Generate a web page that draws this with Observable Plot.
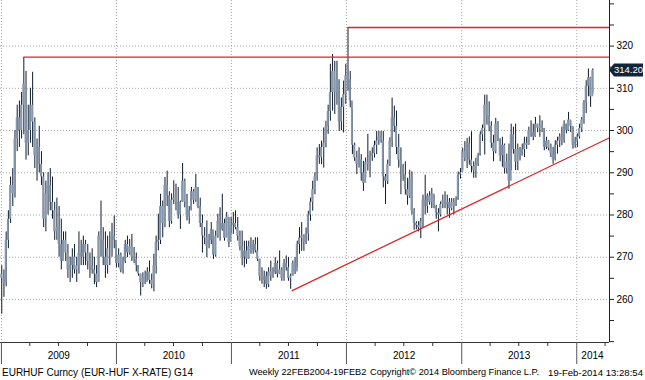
<!DOCTYPE html>
<html><head><meta charset="utf-8">
<script src="https://cdn.jsdelivr.net/npm/d3@7"></script>
<script src="https://cdn.jsdelivr.net/npm/@observablehq/plot@0.6"></script>
<style>
body{margin:0;background:#fff;}
#chart{width:645px;height:380px;position:relative;overflow:hidden;font-family:"Liberation Sans",Arial,sans-serif;background:#fff;}
#chart svg{display:block;}
#caption{position:relative;height:14px;font-size:9px;color:#000;white-space:nowrap;}
#caption span{position:absolute;top:1px;}
</style></head><body>
<div id="chart"></div>
<script>
// weekly candles [high, low, close]; open = previous close
const firstOpen = 266;
const w2009 = [
[268,256.5,265],[267,260.5,264],[276,263,274],[281,272,279],[289,278,287],[291,282,285],[300,284,298],[306,295,303],[307,296,300],[309,298,306],
[317.3,299,311],[314,293,297],[306,294,300],[310,297,306],[313.8,296,302],[303,291,294],[298,288,296],[301,290,292],[295,287,289],[290,277,279],
[288,276,285],[290,280,287],[291,281,283],[289,279,281],[283,274,276],[284,274,277],[282,270,273],[279,267,269],[276,270,274],[276,269,271],
[273,265,267],[270,264,268],[272,265,270],[273,266,267],[270,264,268],[276,266,271],[274,268,270],[275,268,273],[274,268,271],[273,267,269],
[271,265,268],[272,266,267],[270,263.5,266],[268,262.8,264],[276,264,275],[283.3,270,274],[277,268,270],[276,265,268],[275,266,272],[276,268,272],
[278,270,275],[279.8,272,274]];
const w2010 = [
[273,267.5,268.5],[272,267.5,270.5],[271,266.3,267],[270,266,269],[274,268.5,273],[275,269.9,271],[274.2,270.5,272.5],[275.4,269,270],[272.3,268.5,269.5],[271,266.5,268],
[268,265.5,266],[266,260.8,264],[266.3,262.8,265],[266.7,263.5,264],[267.5,264.3,266.5],[269.1,263.6,264.5],[266,262.5,263.5],[270.7,261.8,268],[275,266,273.5],[280.2,271.5,274],
[284.9,273,282],[283.3,274.6,278],[288.9,277,287],[290.4,282,284.5],[285.5,277,278.5],[285,277.8,283.5],[288.1,282.5,284],[287.3,281,283],[286.5,279,280],[283.3,276.6,283],
[292.2,283,288],[288.5,281.7,283],[284.9,278.6,279.5],[282,277.8,281],[286.5,281,285.5],[286,282.5,283.5],[289.6,283,286.5],[286.5,281.5,282],[284,277,278],[280,271,275],
[277,273,274.5],[278.6,269.9,272.5],[275.4,272,274],[278.2,273,276.5],[276,269.5,270.5],[276.2,270,275],[280.2,274.5,278.5],[281.7,273.8,276.5],[284.9,276.2,278],[279,273.8,274.5],
[280.6,275,279.5],[279.4,272.3,273.5],[279.4,275.5,277.5]];
const w2011 = [
[280.6,275.4,278],[281,276.5,277],[279.4,273.8,275],[276.2,271.5,272.5],[276.2,268,270],[273.8,267.5,271.5],[273.8,268.3,269.5],[273.8,269.5,272.5],[274.6,270.7,271.5],[274,270.7,273],
[274.6,271,271.5],[274.6,269,269.5],[269.5,264.3,265.5],[267.5,263.6,264.5],[266.7,262.8,265.5],[266.5,262.4,263.5],[267.5,262.8,266.5],[269.1,264.3,265.5],[267.5,265,266.5],[269.9,265.9,268.5],
[269.1,265.1,266],[271.5,265.9,267],[267.5,264.3,265],[269.5,264.3,268.5],[270.3,266.7,267.5],[269.9,264.3,265],[266,262.4,265.5],[269.1,265.5,268.5],[269.9,265.9,266.5],[273.8,267.5,273],
[277,270.7,274.5],[278.2,271.4,275],[275.3,271.4,273.5],[276.9,273,275.5],[280.9,273.8,280],[284,278.5,283],[288,280.9,286],[290,284.8,289],[295.9,288,294],[296.7,292,293.5],
[297.5,291.9,296],[300.6,291.1,297],[302.2,295.9,301],[306,299.1,304.5],[315.7,302.2,309],[318,304.6,314],[316.4,303.8,309],[316.4,306,312],[312,299.8,302],[307.7,300,305.5],
[311.7,299.4,308.5],[315.7,306.2,313]];
const w2012 = [
[324.4,309.3,312],[314,305.4,307],[305,294.3,296.5],[297,292.7,293.5],[295.1,289.6,292],[295.9,291.1,293],[294.3,288,290],[292.7,285.6,287.5],[293.5,288.8,292.5],[299.1,290.4,292],
[295.1,288.8,294],[295.9,292.7,294.5],[297.5,293.5,296.5],[299.8,294.3,297.5],[299.8,296.5,298.5],[299.8,297,297.5],[299.8,286.4,289],[289.6,282.5,288],[293,287.2,292],[298.3,291.5,297.5],
[307.7,296,303],[305.8,299.5,301],[304.6,294.3,296],[299.1,291.1,293],[295.9,284.8,291.5],[292,288,289.5],[292.6,284.7,286],[288.7,282.3,284.5],[290.6,283.9,288.5],[290.2,280,281],
[281.5,276.4,278],[278.4,276.5,277.5],[278.4,276,277],[279.2,274.4,278.5],[284.7,276.8,283.5],[289.4,280,282],[285,280.4,284.5],[285.5,282.3,283],[286.3,281.5,285],[284.7,281.5,282],
[282.3,279,280.5],[281.5,276,280],[283.1,279.5,282.5],[284.7,281.5,283.5],[285.5,281.5,282.5],[284.7,280,283],[283.9,279.2,281.5],[283.9,281,283],[283.9,280,282],[284.3,282,283.5],
[290.2,283.5,289.5],[291,288.5,290]];
const w2013 = [
[295.8,290.5,295],[297.4,292.6,293.5],[298.1,291,297],[298.5,291.8,293],[299.7,290,291.5],[292.6,288.7,290.5],[293.4,288.7,292],[294.6,291.5,294],[299.7,294,299],[301.3,297.4,300.5],
[308.4,294.2,306],[308.4,301.3,303.5],[306.8,299.7,301],[302.1,295.8,297],[298.9,292.6,295],[302.9,294.5,301.5],[302.1,297.4,298],[298,292.6,294],[298.4,291.3,296.5],[296.8,289.7,291],
[294.4,289.7,292.5],[296.8,286.1,288],[301.5,290.5,299],[300.8,294.4,295.5],[301.5,290.5,292.5],[296.8,290.5,295.5],[296,292.8,294],[296.8,294,295.5],[298.4,293.6,297],[298.4,295.5,296.5],
[300.8,296.5,300],[302.3,298.4,299.5],[301.5,297.6,298.5],[303.1,298.4,301.5],[301.5,299.5,300.5],[303.5,298.4,301],[302.3,299.5,300.5],[300.5,295.2,296],[298.4,295.5,297.5],[297.6,295.2,295.8],
[296.8,293.6,294.5],[296,292,293],[297.6,292.8,296.5],[298.4,294.4,297.5],[299.2,296,298.5],[300.8,296.4,297.5],[302.3,297,301.5],[301.5,299.2,300],[304.3,299.8,302.5],[302.3,299.5,301],
[300.8,295.6,296.5],[298.4,295.8,297.5]];
const w2014 = [
[299.2,296,298.5],[301.5,298,300.5],[303.1,299.5,302.5],[307.1,301.5,306.5],[311.8,304,310.5],[314.6,308,312.5],[312.6,305.5,308],[314.6,308.7,314.2]];

const yearLabels = ["2009","2010","2011","2012","2013","2014"];
const yearLabelDates = ["2009-07-02","2010-07-02","2011-07-02","2012-07-02","2013-07-02","2014-02-20"];
const yearStarts = ["2009-01-01","2010-01-01","2011-01-01","2012-01-01","2013-01-01","2014-01-01"];
const yMajor = [260,270,280,290,300,310,320];
const yMinor = [250,255,265,275,285,295,305,315,325,330];
const resistance = [{from:"2009-03-13", level:317.4},{from:"2012-01-06", level:324.4}];
const trend = [{date:"2011-07-13", value:262.1},{date:"2014-04-15", value:298.3}];
const lastLabel = "314.20";
const captionLeft = "EURHUF Curncy (EUR-HUF X-RATE) G14";
const captionMid = "Weekly 22FEB2004-19FEB2";
const captionCopy = "Copyright\u00A9 2014 Bloomberg Finance L.P.";
const captionTime = "19-Feb-2014 13:28:54";

const D = s => new Date(s + "T00:00:00Z");
const xDomain = [D("2008-12-29"), D("2014-04-15")];
const yDomain = [249.8, 330.8];

const rows = [];
let prev = firstOpen;
const start = Date.UTC(2009,0,2);
[w2009,w2010,w2011,w2012,w2013,w2014].flat().forEach((d,i)=>{
  rows.push({date:new Date(start + i*7*864e5), open:prev, high:d[0], low:d[1], close:d[2]});
  prev = d[2];
});
const halfW = 3.1*864e5;
const quarterTicks = d3.utcMonths(D("2009-01-01"), D("2014-04-02"), 3).filter(d => d.getUTCMonth() !== 0);
const gridCol = "#a8a8a8";
const red = "#dc2626";

const plot = Plot.plot({
  width: 645, height: 366,
  marginTop: 0, marginBottom: 24, marginLeft: 0, marginRight: 36,
  x: {type:"utc", domain: xDomain},
  y: {domain: yDomain},
  style: {fontFamily:'"Liberation Sans", Arial, sans-serif', fontSize:"10px", color:"#000", background:"#fff", overflow:"visible"},
  marks: [
    Plot.gridY(yMajor, {stroke: gridCol, strokeOpacity: 1, strokeDasharray: "1,2"}),
    Plot.gridX(yearStarts.map(D), {stroke: gridCol, strokeOpacity: 1, strokeDasharray: "1,2"}),
    Plot.ruleX(rows, {x:"date", y1:"low", y2:"high", stroke:"#0f1c2c", strokeWidth:1}),
    Plot.rectY(rows, {x1: d => new Date(+d.date - halfW), x2: d => new Date(+d.date + halfW), y1:"open", y2:"close", fill:"#8596ad", insetLeft:0, insetRight:0}),
    Plot.ruleY(resistance, {y:"level", x1: d => D(d.from), x2: xDomain[1], stroke: red, strokeWidth: 1.3}),
    Plot.line(trend, {x: d => D(d.date), y:"value", stroke: red, strokeWidth: 1.3}),
    Plot.ruleY([yDomain[0]], {stroke:"#333", strokeWidth:1}),
    Plot.ruleX([xDomain[1]], {stroke:"#222", strokeWidth:1}),
    Plot.axisY(yMajor, {anchor:"right", tickSize:4, tickPadding:3, label:null, stroke:"#222", fontSize:10}),
    Plot.axisY(yMinor, {anchor:"right", tickSize:4, tickFormat:()=>"", label:null, stroke:"#222"}),
    Plot.axisX(quarterTicks, {anchor:"bottom", tickSize:4, tickFormat:()=>"", label:null, stroke:"#333"}),
    Plot.axisX(yearStarts.map(D), {anchor:"bottom", tickSize:22, tickFormat:()=>"", label:null, stroke:"#555"}),
    Plot.text(yearLabels, {x:(d,i)=>D(yearLabelDates[i]), text:d=>d, frameAnchor:"bottom", dy:16, fontSize:10, fill:"#000"})
  ]
});

// last price tag positioned via the plot's y scale
const yLast = plot.scale("y").apply(rows[rows.length-1].close);
const xAxis = plot.scale("x").apply(xDomain[1]);
const svg = d3.select(plot);
svg.append("path")
  .attr("d", `M${xAxis},${yLast} L${xAxis+5},${yLast-6.5} L${xAxis+34},${yLast-6.5} L${xAxis+34},${yLast+6.5} L${xAxis+5},${yLast+6.5} Z`)
  .attr("fill", "#14253a");
svg.append("text").attr("x", xAxis+19.5).attr("y", yLast).attr("dy","0.35em")
  .attr("text-anchor","middle").attr("fill","#fff").attr("font-size","9.5px").text(lastLabel);

const chart = document.getElementById("chart");
chart.appendChild(plot);
const cap = document.createElement("div");
cap.id = "caption";
[[captionLeft,2,10],[captionMid,249,9.2],[captionCopy,370,9.2],[captionTime,null,9.6]].forEach(([t,l,fs])=>{
  const s = document.createElement("span");
  s.textContent = t;
  s.style.fontSize = fs + "px";
  if (l === null) s.style.right = "2px"; else s.style.left = l + "px";
  cap.appendChild(s);
});
chart.appendChild(cap);
</script>
</body></html>
